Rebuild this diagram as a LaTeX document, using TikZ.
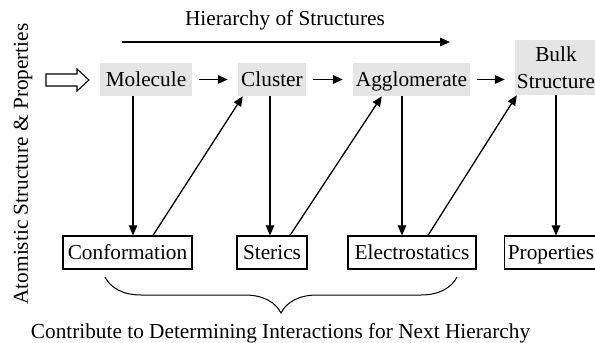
\documentclass[tikz,border=0pt]{standalone}
\usepackage{fontspec}
\setmainfont{Liberation Serif}
\usetikzlibrary{arrows.meta,calc,decorations.pathreplacing}

\begin{document}
\begin{tikzpicture}[x=1pt,y=-1pt,every node/.style={font=\fontsize{21.3}{27}\selectfont}]
  \tikzset{
    lvl/.style={fill=black!10,inner sep=0pt,minimum height=33pt,text height=14.5pt,text depth=0pt},
    fac/.style={draw,line width=1.2pt,inner sep=0pt,minimum height=33pt,text height=14.5pt,text depth=0pt},
    arr/.style={line width=1.3pt,-{Triangle[length=10pt,width=8.5pt]}}
  }
  \useasboundingbox (0,0) rectangle (595,343);
  \clip (0,0) rectangle (595,343);
  % hierarchy row
  \node[lvl,minimum width=92pt] (mol) at (146,79.5) {Molecule};
  \node[lvl,minimum width=68pt] (clu) at (272,79.5) {Cluster};
  \node[lvl,minimum width=117pt] (agg) at (411.5,79.5) {Agglomerate};
  \node[lvl,minimum width=82pt,minimum height=55pt,align=center,text height=41.5pt] (bulk) at (556,67.5) {Bulk\\Structure};
  % factors row
  \node[fac,minimum width=129pt] (conf) at (127.5,252.5) {Conformation};
  \node[fac,minimum width=70pt] (ster) at (272,252.5) {Sterics};
  \node[fac,minimum width=128pt] (elec) at (412,252.5) {Electrostatics};
  \node[fac,minimum width=93pt] (prop) at (551,252.5) {Properties};
  \foreach \u/\v in {mol/clu,clu/agg,agg/bulk}
    \draw[arr,shorten <=7pt,shorten >=10pt] (\u.east) -- (\u.east -| \v.west);
  \foreach \u/\v/\dx in {mol/conf/-13,clu/ster/-2,agg/elec/-9.5,bulk/prop/0}
    \draw[arr] ([xshift=\dx pt]\u.south) -- ([xshift=\dx pt]\u.south |- \v.north);
  \foreach \u/\du/\v/\dv in {conf/25.5/clu/5,ster/18/agg/29,elec/16/bulk/2}
    \draw[arr] ([xshift=\du pt]\u.north) -- ([xshift=\dv pt]\v.south west);
  % title and side input
  \node[anchor=base] (title) at (285,25) {Hierarchy of Structures};
  \coordinate (hs) at (122,42);
  \coordinate (he) at (450,42);
  \draw[arr,line width=1.5pt] (hs) -- (he);
  \node[rotate=90] (atom) at (23,164) {Atomistic Structure \& Properties};
  \draw[line width=1.1pt] (46,74) -- (77,74) -- (77,69) -- (89,80) -- (77,91) -- (77,86) -- (46,86) -- cycle;
  % brace
  \coordinate (bl) at (105,277);
  \coordinate (br) at (457,277);
  \draw[line width=1pt,decorate,decoration={brace,mirror,amplitude=36pt}] (bl) -- (br);
  \node[anchor=base] (note) at (280.5,338) {Contribute to Determining Interactions for Next Hierarchy};
\end{tikzpicture}
\end{document}
